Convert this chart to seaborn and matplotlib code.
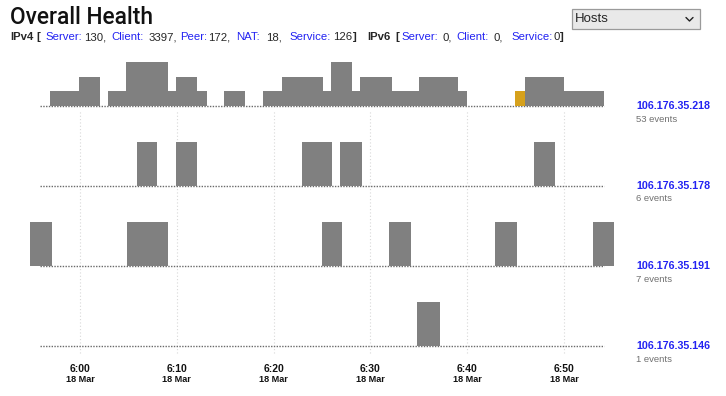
import numpy as np
import matplotlib
matplotlib.use("Agg")
import matplotlib.pyplot as plt
import seaborn as sns
from matplotlib.patches import Rectangle
from matplotlib.lines import Line2D

# Header counters
ipv4_keys = ["Server", "Client", "Peer", "NAT", "Service"]
ipv4_vals = [130, 3397, 172, 18, 126]
ipv6_keys = ["Server", "Client", "Service"]
ipv6_vals = [0, 0, 0]

# Hosts, top to bottom
hosts = ["106.176.35.218", "106.176.35.178", "106.176.35.191", "106.176.35.146"]
events = [53, 6, 7, 1]

# Activity intervals, minutes after 6:00 (start, end) and count per interval
start_218 = [-3.1, -0.1, 2.9, 4.8, 9.1, 9.9, 12.05, 14.9, 18.9, 20.9, 25.1, 25.9, 28.1, 28.9, 32.2, 35.0, 39.0, 44.9, 46.0, 50.0]
end_218 = [-0.1, 2.1, 4.8, 9.1, 9.9, 12.05, 13.1, 17.05, 20.9, 25.1, 25.9, 28.1, 28.9, 32.2, 35.0, 39.0, 40.0, 46.0, 50.0, 54.1]
count_218 = [1, 2, 1, 3, 1, 2, 1, 1, 1, 2, 1, 3, 1, 2, 1, 2, 1, 1, 2, 1]
warn_218 = [False] * 17 + [True] + [False] * 2

start_178 = [5.9, 9.9, 22.9, 26.9, 46.9]
end_178 = [8.0, 12.05, 26.05, 29.1, 49.1]
count_178 = [1, 1, 1, 1, 1]

start_191 = [-5.15, 4.85, 24.95, 31.9, 42.9, 52.95]
end_191 = [-2.9, 9.05, 27.1, 34.2, 45.1, 55.2]
count_191 = [1, 1, 1, 1, 1, 1]

start_146 = [34.85]
end_146 = [37.2]
count_146 = [1]

tick_minutes = [0, 10, 20, 30, 40, 50]
tick_times = ["6:00", "6:10", "6:20", "6:30", "6:40", "6:50"]
tick_date = "18 Mar"

rows = [
    (start_218, end_218, count_218, warn_218),
    (start_178, end_178, count_178, [False] * len(count_178)),
    (start_191, end_191, count_191, [False] * len(count_191)),
    (start_146, end_146, count_146, [False] * len(count_146)),
]

sns.set_style("white")
plt.rcParams['font.family'] = ['Liberation Sans', 'DejaVu Sans']

W, H = 726, 396
fig = plt.figure(figsize=(W / 100, H / 100), dpi=100)


def fx(px):
    return px / W


def fy(py):
    return 1 - py / H


# time axis: 6:00 sits at x=80px, 9.68 px per minute
ppm, x0 = 9.68, 80
xmin, xmax = -5.2, 55.2
left, right = x0 + xmin * ppm, x0 + xmax * ppm
ax = fig.add_axes([fx(left), fy(356), (right - left) / W, (356 - 55) / H])
ax.set_xlim(xmin, xmax)
ax.set_ylim(40, 341)  # y in pixels from figure bottom
ax.axis("off")

base_px = [106, 186, 266, 346]
full = 44
blue = "#2222f2"

# vertical dotted grid
ax.vlines(tick_minutes, H - 353, H - 110, colors="#d8d8d8",
          linestyles=(0, (1, 2)), linewidth=0.8, zorder=1)

for (s, e, c, warn), bpx, host, n in zip(rows, base_px, hosts, events):
    s, e, c = np.array(s), np.array(e), np.array(c, dtype=float)
    base = H - bpx
    ax.hlines(base, -4.13, 54.15, colors="#6a6a6a", linestyles=(0, (1, 1)),
              linewidth=1, zorder=2)
    colors = ["#d6a11c" if w else "#808080" for w in warn]
    ax.bar(s, c / c.max() * full, width=e - s, bottom=base, align="edge",
           color=colors, linewidth=0, zorder=3)
    fig.text(fx(636), fy(bpx), host, color=blue, fontsize=7.7,
             fontweight="bold", va="center", ha="left")
    fig.text(fx(636), fy(bpx + 13), f"{n} events", color="#707070",
             fontsize=6.8, va="center", ha="left")

for m, t in zip(tick_minutes, tick_times):
    ax.text(m, H - 369, t, ha="center", va="center", fontsize=7.5,
            fontweight="bold", color="#111111")
    ax.text(m, H - 380, tick_date, ha="center", va="center", fontsize=6.6,
            fontweight="bold", color="#111111")

# title
fig.text(fx(10), fy(18), "Overall Health", fontsize=16.4, fontweight="medium",
         family=["Roboto", "Liberation Sans"], va="center", ha="left",
         color="#111111")

# header counters
hy = fy(37)
fs = 8.2
ipv4_key_x = [45, 111, 180, 236, 289]
ipv4_val_x = [84, 149, 208, 266, 333]
ipv6_key_x = [401, 456, 511]
ipv6_val_x = [442, 493, 554]

fig.text(fx(10), hy, "IPv4", fontsize=fs, fontweight="bold", va="center")
fig.text(fx(36), hy, "[", fontsize=fs, fontweight="bold", va="center")
for i, (k, v) in enumerate(zip(ipv4_keys, ipv4_vals)):
    fig.text(fx(ipv4_key_x[i]), hy, k + ":", fontsize=fs, color=blue, va="center")
    sep = "," if i < len(ipv4_vals) - 1 else ""
    fig.text(fx(ipv4_val_x[i]), hy, f"{v}{sep}", fontsize=fs, va="center")
fig.text(fx(353), hy, "]", fontsize=fs, fontweight="bold", va="center")

fig.text(fx(367), hy, "IPv6", fontsize=fs, fontweight="bold", va="center")
fig.text(fx(395), hy, "[", fontsize=fs, fontweight="bold", va="center")
for i, (k, v) in enumerate(zip(ipv6_keys, ipv6_vals)):
    fig.text(fx(ipv6_key_x[i]), hy, k + ":", fontsize=fs, color=blue, va="center")
    sep = "," if i < len(ipv6_vals) - 1 else ""
    fig.text(fx(ipv6_val_x[i]), hy, f"{v}{sep}", fontsize=fs, va="center")
fig.text(fx(560), hy, "]", fontsize=fs, fontweight="bold", va="center")

# "Hosts" select box
fig.patches.append(Rectangle((fx(572), fy(29)), 128 / W, 20 / H,
                             transform=fig.transFigure, facecolor="#e9e9e9",
                             edgecolor="#9a9a9a", linewidth=0.9))
fig.text(fx(575), fy(19), "Hosts", fontsize=9.5, va="center", ha="left")
fig.lines.append(Line2D([fx(686), fx(689.5), fx(693)], [fy(17.5), fy(21), fy(17.5)],
                        transform=fig.transFigure, color="#222222", linewidth=1))

fig.savefig("out.png", dpi=100)
